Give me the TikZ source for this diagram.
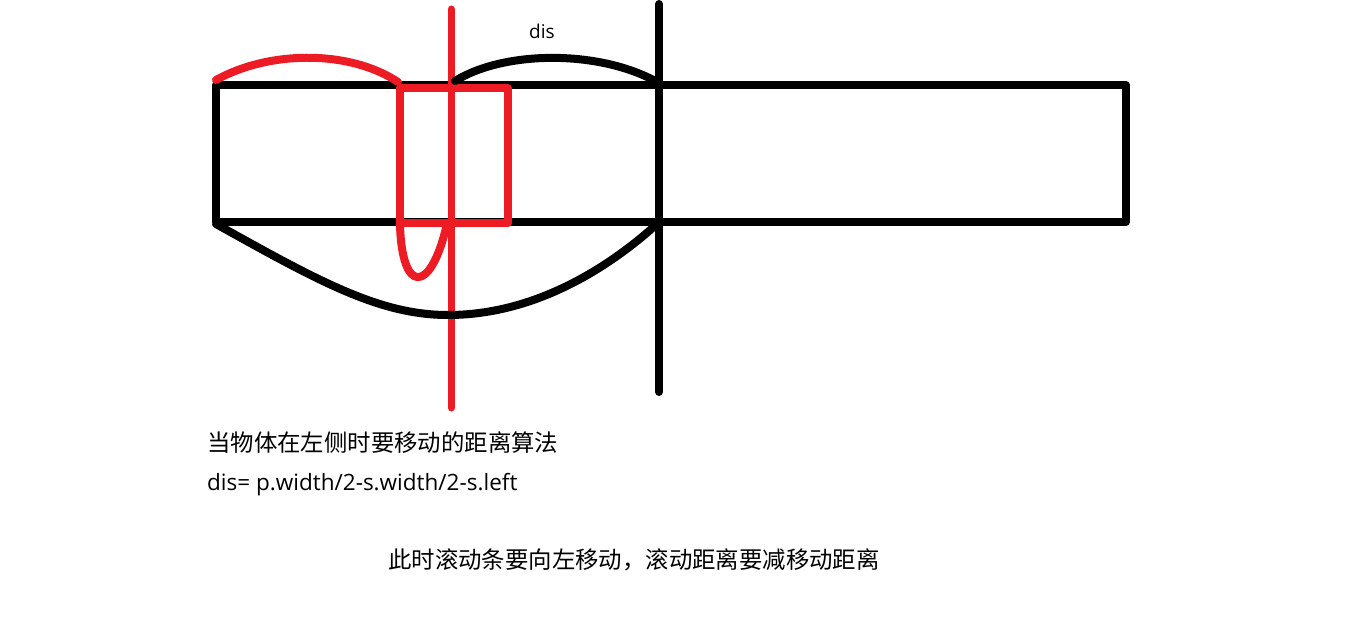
\documentclass[tikz,border=0pt]{standalone}
\usepackage{fontspec}
\setmainfont{Noto Sans CJK SC}
\newfontfamily\latinfont{Open Sans}
\definecolor{penred}{HTML}{ED1C24}
\tikzset{
  blackpen/.style={line width=8pt,line cap=round,line join=round,draw=black},
  redpen/.style={line width=8pt,line cap=round,line join=round,draw=penred},
  note/.style={anchor=west,inner sep=0pt,font=\fontsize{23.4}{27}\selectfont}
}
\begin{document}
\begin{tikzpicture}[x=1pt,y=-1pt]
	\useasboundingbox (0,0) rectangle (1350,629);

	% container bar
	\draw[blackpen] (216,85) rectangle (1126,222);
	\draw[blackpen] (659,4) -- (659,392);

	% moving item
	\draw[redpen] (400,88) rectangle (508,223);
	\draw[redpen,line width=7pt] (451,9) -- (451,408);

	% arcs
	\draw[redpen] (216,80) .. controls (270,50) and (350,50) .. (398,82);
	\draw[blackpen] (455,81) .. controls (505,50) and (600,50) .. (657,82);
	\node[inner sep=0pt,font=\latinfont\fontsize{19}{24}\selectfont] (dis) at (542,31) {dis};
	\draw[redpen] (400,225) .. controls (402,294) and (430,294) .. (446,228);
	\draw[blackpen] (216,224) .. controls (320,282) and (380,315) .. (448,315)
	  .. controls (540,315) and (615,262) .. (657,224);

	% texts
	\node[note] (title) at (207,443) {当物体在左侧时要移动的距离算法};
	\node[note,font=\latinfont\fontsize{22.5}{26}\selectfont] (formula) at (207,485) {dis= p.width/2-s.width/2-s.left};
	\node[note] (result) at (388,560) {此时滚动条要向左移动，滚动距离要减移动距离};
\end{tikzpicture}
\end{document}
